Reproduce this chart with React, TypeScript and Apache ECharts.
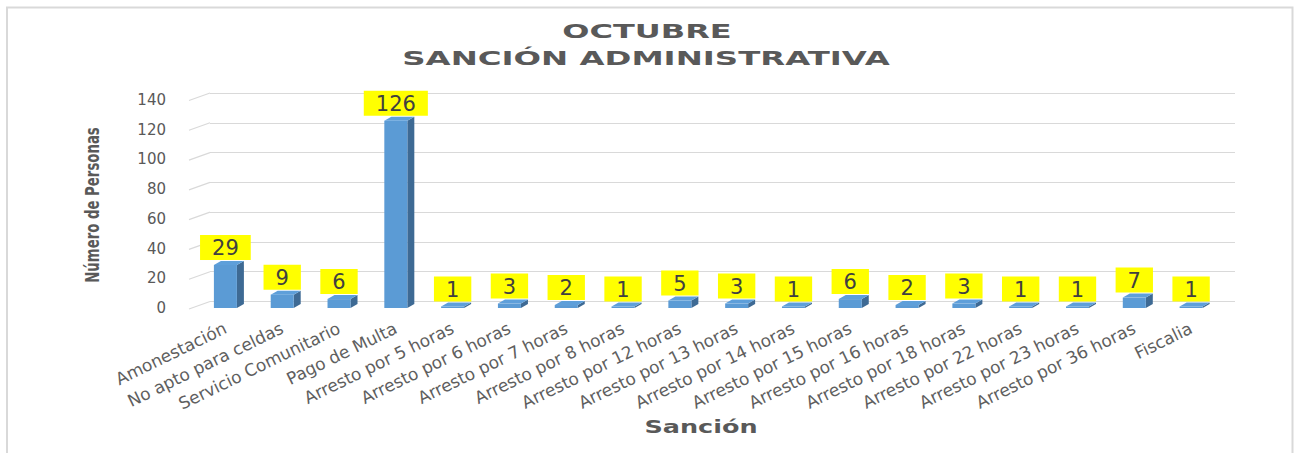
import React, { useEffect, useRef } from "react";
import * as echarts from "echarts";

const categories = [
  "Amonestación",
  "No apto para celdas",
  "Servicio Comunitario",
  "Pago de Multa",
  "Arresto por 5 horas",
  "Arresto por 6 horas",
  "Arresto por 7 horas",
  "Arresto por 8 horas",
  "Arresto por 12 horas",
  "Arresto por 13 horas",
  "Arresto por 14 horas",
  "Arresto por 15 horas",
  "Arresto por 16 horas",
  "Arresto por 18 horas",
  "Arresto por 22 horas",
  "Arresto por 23 horas",
  "Arresto por 36 horas",
  "Fiscalia",
];
const values = [29, 9, 6, 126, 1, 3, 2, 1, 5, 3, 1, 6, 2, 3, 1, 1, 7, 1];
const yTicks = [0, 20, 40, 60, 80, 100, 120, 140];
const titleLines = ["OCTUBRE", "SANCIÓN ADMINISTRATIVA"];
const yName = "Número de Personas";
const xName = "Sanción";

const GRAY = "#595959";
const GRID_LINE = "#d9d9d9";
const FONT = '"DejaVu Sans", Verdana, sans-serif';

export default function App() {
  const ref = useRef<HTMLDivElement>(null);
  useEffect(() => {
    document.body.style.margin = "0";
    if (!ref.current) return;
    const chart = echarts.init(ref.current, undefined, { renderer: "svg" });
    const HALF = 11.5;
    const DX = 7;
    const DY = -4;
    const option: any = {
      animation: false,
      backgroundColor: "#ffffff",
      grid: [
        { left: 197, right: 74.5, top: 100, bottom: 145 },
        { left: 210, right: 59, top: 93, bottom: 151.5 },
      ],
      xAxis: [
        {
          type: "category",
          gridIndex: 0,
          data: categories,
          axisLine: { show: false },
          axisTick: { show: false },
          axisLabel: {
            interval: 0,
            rotate: 26,
            margin: 19,
            fontFamily: FONT,
            fontSize: 17,
            color: "#5f5f5f",
          },
        },
        { type: "value", gridIndex: 1, min: 0, max: 1, show: false },
      ],
      yAxis: [
        {
          type: "value",
          gridIndex: 0,
          min: 0,
          max: 140,
          interval: 20,
          axisLine: { show: false },
          axisTick: { show: false },
          splitLine: { show: false },
          axisLabel: {
            margin: 31,
            fontFamily: FONT,
            fontSize: 15,
            color: GRAY,
          },
        },
        {
          type: "value",
          gridIndex: 1,
          min: 0,
          max: 140,
          interval: 20,
          axisLine: { show: false },
          axisTick: { show: false },
          axisLabel: { show: false },
          splitLine: { show: true, lineStyle: { color: GRID_LINE, width: 1.2 } },
        },
      ],
      series: [
        {
          type: "custom",
          xAxisIndex: 1,
          yAxisIndex: 1,
          silent: true,
          z: 1,
          data: yTicks.map((t) => [0, t]),
          renderItem: (params: any, api: any) => {
            const p = api.coord([0, api.value(1)]);
            return {
              type: "line",
              shape: { x1: p[0] - 21, y1: p[1] + 7.5, x2: p[0], y2: p[1] },
              style: { stroke: GRID_LINE, lineWidth: 1.2 },
            };
          },
        },
        {
          type: "custom",
          xAxisIndex: 0,
          yAxisIndex: 0,
          silent: true,
          z: 3,
          data: values.map((v, i) => [i, v]),
          renderItem: (params: any, api: any) => {
            const top = api.coord([api.value(0), api.value(1)]);
            const base = api.coord([api.value(0), 0]);
            const x = top[0];
            const yt = top[1];
            const yb = base[1];
            return {
              type: "group",
              children: [
                {
                  type: "polygon",
                  shape: {
                    points: [
                      [x + HALF, yt],
                      [x + HALF + DX, yt + DY],
                      [x + HALF + DX, yb + DY],
                      [x + HALF, yb],
                    ],
                  },
                  style: { fill: "#3e6a94" },
                },
                {
                  type: "rect",
                  shape: { x: x - HALF, y: yt, width: HALF * 2, height: yb - yt },
                  style: { fill: "#5b9bd5" },
                },
                {
                  type: "polygon",
                  shape: {
                    points: [
                      [x - HALF, yt],
                      [x - HALF + DX, yt + DY],
                      [x + HALF + DX, yt + DY],
                      [x + HALF, yt],
                    ],
                  },
                  style: { fill: "#5e9fda" },
                },
              ],
            };
          },
        },
        {
          type: "bar",
          xAxisIndex: 0,
          yAxisIndex: 0,
          silent: true,
          z: 4,
          barWidth: 23,
          data: values,
          itemStyle: { color: "rgba(0,0,0,0)" },
          label: {
            show: true,
            position: "top",
            distance: 5,
            backgroundColor: "#ffff00",
            padding: [3, 12, 2, 12],
            lineHeight: 20,
            fontFamily: FONT,
            fontSize: 21,
            color: "#404040",
          },
        },
      ],
      graphic: [
        {
          type: "rect",
          silent: true,
          shape: { x: 7, y: 7.5, width: 1285.5, height: 470 },
          style: { fill: "none", stroke: GRID_LINE, lineWidth: 2 },
        },
        {
          type: "text",
          x: 647,
          y: 30.5,
          scaleX: 1.6,
          style: {
            text: titleLines[0],
            font: `bold 20px ${FONT}`,
            fill: GRAY,
            align: "center",
            verticalAlign: "middle",
          },
        },
        {
          type: "text",
          x: 646,
          y: 58,
          scaleX: 1.62,
          style: {
            text: titleLines[1],
            font: `bold 20px ${FONT}`,
            fill: GRAY,
            align: "center",
            verticalAlign: "middle",
          },
        },
        {
          type: "text",
          x: 92,
          y: 205,
          rotation: Math.PI / 2,
          scaleY: 1.5,
          style: {
            text: yName,
            font: `bold 13.3px ${FONT}`,
            fill: GRAY,
            align: "center",
            verticalAlign: "middle",
          },
        },
        {
          type: "text",
          x: 701,
          y: 427,
          scaleX: 1.5,
          style: {
            text: xName,
            font: `bold 17px ${FONT}`,
            fill: GRAY,
            align: "center",
            verticalAlign: "middle",
          },
        },
      ],
    };
    chart.setOption(option);
    return () => chart.dispose();
  }, []);
  return <div ref={ref} style={{ width: 1294, height: 453 }} />;
}
